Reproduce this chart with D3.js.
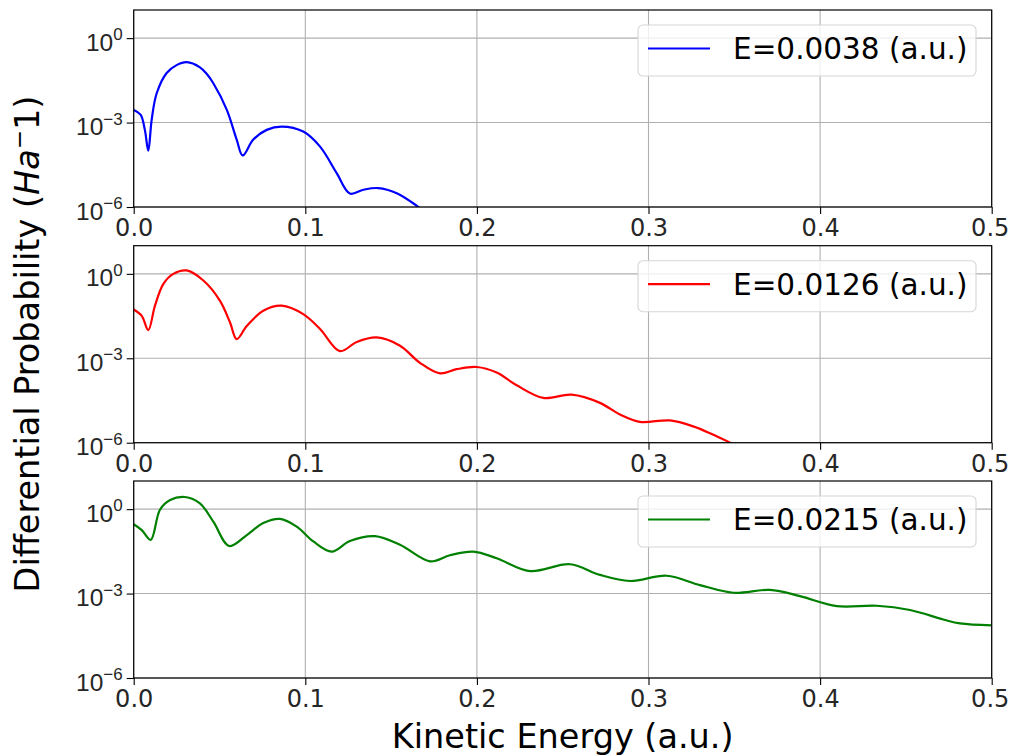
<!DOCTYPE html>
<html>
<head>
<meta charset="utf-8">
<script src="https://cdn.jsdelivr.net/npm/d3@7"></script>
<style>
  body { margin: 0; background: #fff; }
  svg { display: block; font-family: "DejaVu Sans", sans-serif; }
</style>
</head>
<body>
<div id="chart"></div>
<script>
// photon energies of the three runs (a.u.)
const energies = [0.0038, 0.0126, 0.0215]
const colors = ['#0000ff', '#ff0000', '#008000']

// kinetic energy samples (a.u.) and differential probability
const ke1 = [0.000, 0.004, 0.0065, 0.0085, 0.0105, 0.0134, 0.0192, 0.025, 0.0309, 0.0386, 0.0425, 0.0464, 0.0542,
  0.060, 0.0635, 0.0697, 0.0775, 0.0862, 0.0988, 0.1086, 0.1183, 0.126, 0.1338, 0.1425, 0.1533, 0.165, 0.172]
const p1 = [2.8e-3, 1.9e-3, 5.5e-4, 1.0e-4, 1.3e-3, 1.1e-2, 5.8e-2, 0.11, 0.14, 0.092, 5.4e-2, 2.5e-2, 2.9e-3,
  2.5e-4, 6.8e-5, 2.5e-4, 5.5e-4, 7.2e-4, 4.8e-4, 1.4e-4, 1.6e-5, 3.0e-6, 4.1e-6, 4.7e-6, 3.1e-6, 1.1e-6, 5e-7]

const ke2 = [0.000, 0.0047, 0.0085, 0.0124, 0.0173, 0.0231, 0.0309, 0.0406, 0.0503, 0.0561, 0.060, 0.0659,
  0.0755, 0.0862, 0.0988, 0.1086, 0.1202, 0.130, 0.1416, 0.1552, 0.1668, 0.1785, 0.1882, 0.1999, 0.2115,
  0.2232, 0.2387, 0.2552, 0.2717, 0.2834, 0.295, 0.3125, 0.3261, 0.3378, 0.3475, 0.355]
const p2 = [5.4e-2, 3.2e-2, 1.0e-2, 7.4e-2, 0.44, 1.0, 1.32, 0.58, 0.11, 1.9e-2, 4.8e-3, 1.4e-2,
  4.9e-2, 7.4e-2, 3.7e-2, 1.1e-2, 1.8e-3, 3.8e-3, 5.5e-3, 2.8e-3, 6.9e-4, 2.9e-4, 4.1e-4, 4.9e-4, 3.1e-4,
  1.1e-4, 3.9e-5, 5.1e-5, 2.6e-5, 1.0e-5, 5.5e-6, 6.2e-6, 3.8e-6, 1.9e-6, 1.0e-6, 5e-7]

const ke3 = [0.000, 0.0047, 0.0099, 0.0153, 0.0212, 0.0299, 0.0386, 0.0464, 0.0557, 0.0659, 0.0755, 0.0853,
  0.095, 0.1047, 0.1154, 0.126, 0.1406, 0.1552, 0.1727, 0.1843, 0.1979, 0.2115, 0.2309, 0.2543, 0.2717,
  0.2892, 0.3106, 0.33, 0.3494, 0.3708, 0.3883, 0.4097, 0.433, 0.4524, 0.4718, 0.4815, 0.5]
const p3 = [0.29, 0.18, 8.1e-2, 0.95, 2.1, 2.7, 1.6, 0.36, 4.9e-2, 0.12, 0.32, 0.45,
  0.24, 7.1e-2, 3.1e-2, 7.4e-2, 0.11, 5.4e-2, 1.4e-2, 2.3e-2, 3.1e-2, 1.8e-2, 6.3e-3, 1.1e-2, 4.6e-3,
  2.8e-3, 4.3e-3, 2.0e-3, 1.07e-3, 1.35e-3, 8.1e-4, 3.6e-4, 3.7e-4, 2.6e-4, 1.2e-4, 8.7e-5, 7.4e-5]

const xTicks = [0, 0.1, 0.2, 0.3, 0.4, 0.5]
const yTicks = [1e0, 1e-3, 1e-6]

const kes = [ke1, ke2, ke3]
const probs = [p1, p2, p3]

const W = 1009, H = 756
const left = 133.7, right = 991.7
const tops = [10, 245.7, 481]
const ph = 197

const svg = d3.select('#chart').append('svg')
  .attr('width', W).attr('height', H)

const x = d3.scaleLinear().domain([0, 0.5]).range([left, right])

energies.forEach(function(en, i) {
  const top = tops[i]
  const y = d3.scaleLog().domain([1e-6, 1e1]).range([top + ph, top])
  const g = svg.append('g')

  // grid
  g.selectAll('.gx').data(xTicks).enter().append('line')
    .attr('x1', d => x(d)).attr('x2', d => x(d))
    .attr('y1', top).attr('y2', top + ph)
    .attr('stroke', '#b0b0b0').attr('stroke-width', 1.1)
  g.selectAll('.gy').data(yTicks).enter().append('line')
    .attr('x1', left).attr('x2', right)
    .attr('y1', d => y(d)).attr('y2', d => y(d))
    .attr('stroke', '#b0b0b0').attr('stroke-width', 1.1)

  // curve
  const clipId = 'clip' + i
  svg.append('clipPath').attr('id', clipId).append('rect')
    .attr('x', left).attr('y', top).attr('width', right - left).attr('height', ph)
  const data = kes[i].map((k, j) => [k, probs[i][j]])
  const line = d3.line()
    .x(d => x(d[0])).y(d => y(d[1]))
    .curve(d3.curveCatmullRom.alpha(0.5))
  g.append('path').datum(data)
    .attr('clip-path', 'url(#' + clipId + ')')
    .attr('d', line)
    .attr('fill', 'none')
    .attr('stroke', colors[i])
    .attr('stroke-width', 2.2)

  // axes
  const xa = g.append('g').attr('transform', 'translate(0,' + (top + ph) + ')')
    .call(d3.axisBottom(x).tickValues(xTicks).tickFormat(d3.format('.1f')).tickSize(7).tickPadding(5))
  xa.select('.domain').remove()
  xa.selectAll('line').attr('stroke', '#000').attr('stroke-width', 1.1)
  xa.selectAll('text').attr('font-size', 24).attr('fill', '#262626')
    .attr('font-family', '"DejaVu Sans", sans-serif')
  // last label sits at the page edge, keep it inside
  xa.selectAll('.tick').filter(d => d === 0.5).select('text').attr('dx', -2)

  const ya = g.append('g').attr('transform', 'translate(' + left + ',0)')
    .call(d3.axisLeft(y).tickValues(yTicks).tickFormat('').tickSize(7))
  ya.select('.domain').remove()
  ya.selectAll('line').attr('stroke', '#000').attr('stroke-width', 1.1)
  ya.selectAll('.tick').each(function(d) {
    const t = d3.select(this).append('text')
      .attr('x', -11).attr('y', 12)
      .attr('text-anchor', 'end')
      .attr('fill', '#262626')
      .attr('font-size', 24.5)
    t.append('tspan').text('10')
    const exp = String(Math.round(Math.log10(d))).replace('-', '\u2212')
    t.append('tspan').attr('font-size', 17).attr('dy', -10.5).text(exp)
  })

  // frame
  g.append('rect')
    .attr('x', left).attr('y', top).attr('width', right - left).attr('height', ph)
    .attr('fill', 'none').attr('stroke', '#000').attr('stroke-width', 1.2)

  // legend
  const lg = g.append('g').attr('transform', 'translate(638,' + (top + 15) + ')')
  lg.append('rect')
    .attr('width', 338).attr('height', 51).attr('rx', 5)
    .attr('fill', 'rgba(255,255,255,0.8)')
    .attr('stroke', '#d6d6d6').attr('stroke-width', 1.1)
  lg.append('line')
    .attr('x1', 10).attr('x2', 72).attr('y1', 23.5).attr('y2', 23.5)
    .attr('stroke', colors[i]).attr('stroke-width', 2.2)
  lg.append('text')
    .attr('x', 95).attr('y', 34)
    .attr('font-size', 29.5).attr('fill', '#000')
    .text('E=' + en.toFixed(4) + ' (a.u.)')
})

// axis labels
svg.append('text')
  .attr('x', (left + right) / 2).attr('y', 748)
  .attr('text-anchor', 'middle').attr('font-size', 33.5)
  .text('Kinetic Energy (a.u.)')

const yl = svg.append('text')
  .attr('transform', 'translate(39,' + ((tops[0] + tops[2] + ph) / 2) + ') rotate(-90)')
  .attr('text-anchor', 'middle').attr('font-size', 33.5)
yl.append('tspan').text('Differential Probability (')
yl.append('tspan').attr('font-style', 'italic').text('Ha')
yl.append('tspan').attr('font-size', 23).attr('dy', -12).text('\u2212')
yl.append('tspan').attr('dy', 12).text('1)')
</script>
</body>
</html>
